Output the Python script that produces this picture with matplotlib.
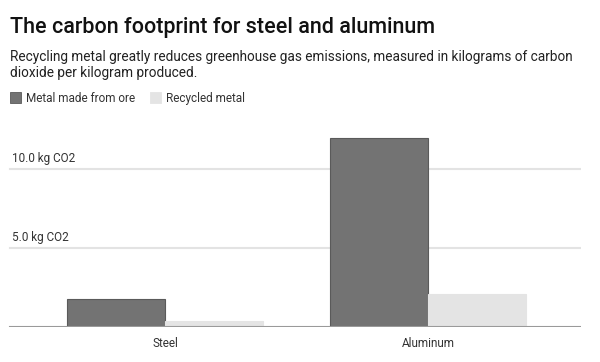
import matplotlib
matplotlib.use("Agg")
import matplotlib.pyplot as plt
import numpy as np
from matplotlib.patches import Rectangle

categories = ["Steel", "Aluminum"]
ore = [1.8, 12.0]
recycled = [0.4, 2.1]
series_names = ["Metal made from ore", "Recycled metal"]
ticks = [5.0, 10.0]
tick_labels = ["5.0 kg CO2", "10.0 kg CO2"]

plt.rcParams['font.family'] = ['Roboto', 'DejaVu Sans']

W, H = 600, 362
fig = plt.figure(figsize=(W/100, H/100), dpi=100)

ymax = 13.0
y0 = 327.3
ppu = 15.8
top_px = y0 - ymax*ppu
ax = fig.add_axes([0/W, 1 - y0/H, 581/W, (y0 - top_px)/H])

x = np.arange(len(categories))
bw = 0.374
ore_c = "#737373"
rec_c = "#e4e4e4"
ax.bar(x - bw/2, ore, bw, color=ore_c, edgecolor="#5a5a5a", linewidth=0.8, zorder=3)
ax.bar(x + bw/2, recycled, bw, color=rec_c, edgecolor=rec_c, linewidth=0.8, zorder=3)

# group centres at px 165 and 428 within axes spanning 0..581
ppx = 263.0
ax.set_xlim(-165/ppx, 1 + (581 - 428)/ppx)
ax.set_ylim(0, ymax)
for t, lab in zip(ticks, tick_labels):
    ax.axhline(t, xmin=10/581, color="#e3e3e3", linewidth=1.5, zorder=1)
    ax.text(12.5/581, t + 0.28, lab, transform=ax.get_yaxis_transform(), ha="left", va="bottom",
            fontsize=8.5, color="#333333")
ax.axhline(0, xmin=10/581, color="#9a9a9a", linewidth=1.5, zorder=4)

for s in ax.spines.values():
    s.set_visible(False)
ax.set_yticks([])
ax.set_xticks(x)
ax.set_xticklabels(categories, fontsize=8.5, color="#333333")
ax.tick_params(axis="x", length=0, pad=7)

fig.text(10/W, 1 - 33.3/H, "The carbon footprint for steel and aluminum", fontsize=15.5,
         fontweight="medium", color="#111111", ha="left", va="baseline")
fig.text(10/W, 1 - 61/H, "Recycling metal greatly reduces greenhouse gas emissions, measured in kilograms of carbon",
         fontsize=9.85, color="#222222", ha="left", va="baseline")
fig.text(10/W, 1 - 77/H, "dioxide per kilogram produced.",
         fontsize=9.85, color="#222222", ha="left", va="baseline")

# legend
for (lx, tx), name, c in zip([(10, 26), (150, 166)], series_names, [ore_c, rec_c]):
    fig.patches.append(Rectangle((lx/W, 1 - 102.7/H), 11/W, 10.5/H, transform=fig.transFigure,
                                 facecolor=c, edgecolor=c if c == rec_c else "#5a5a5a", linewidth=0.6))
    fig.text(tx/W, 1 - 102/H, name, fontsize=8.5, color="#333333", ha="left", va="baseline")

fig.savefig("out.png", dpi=100, facecolor="white")
